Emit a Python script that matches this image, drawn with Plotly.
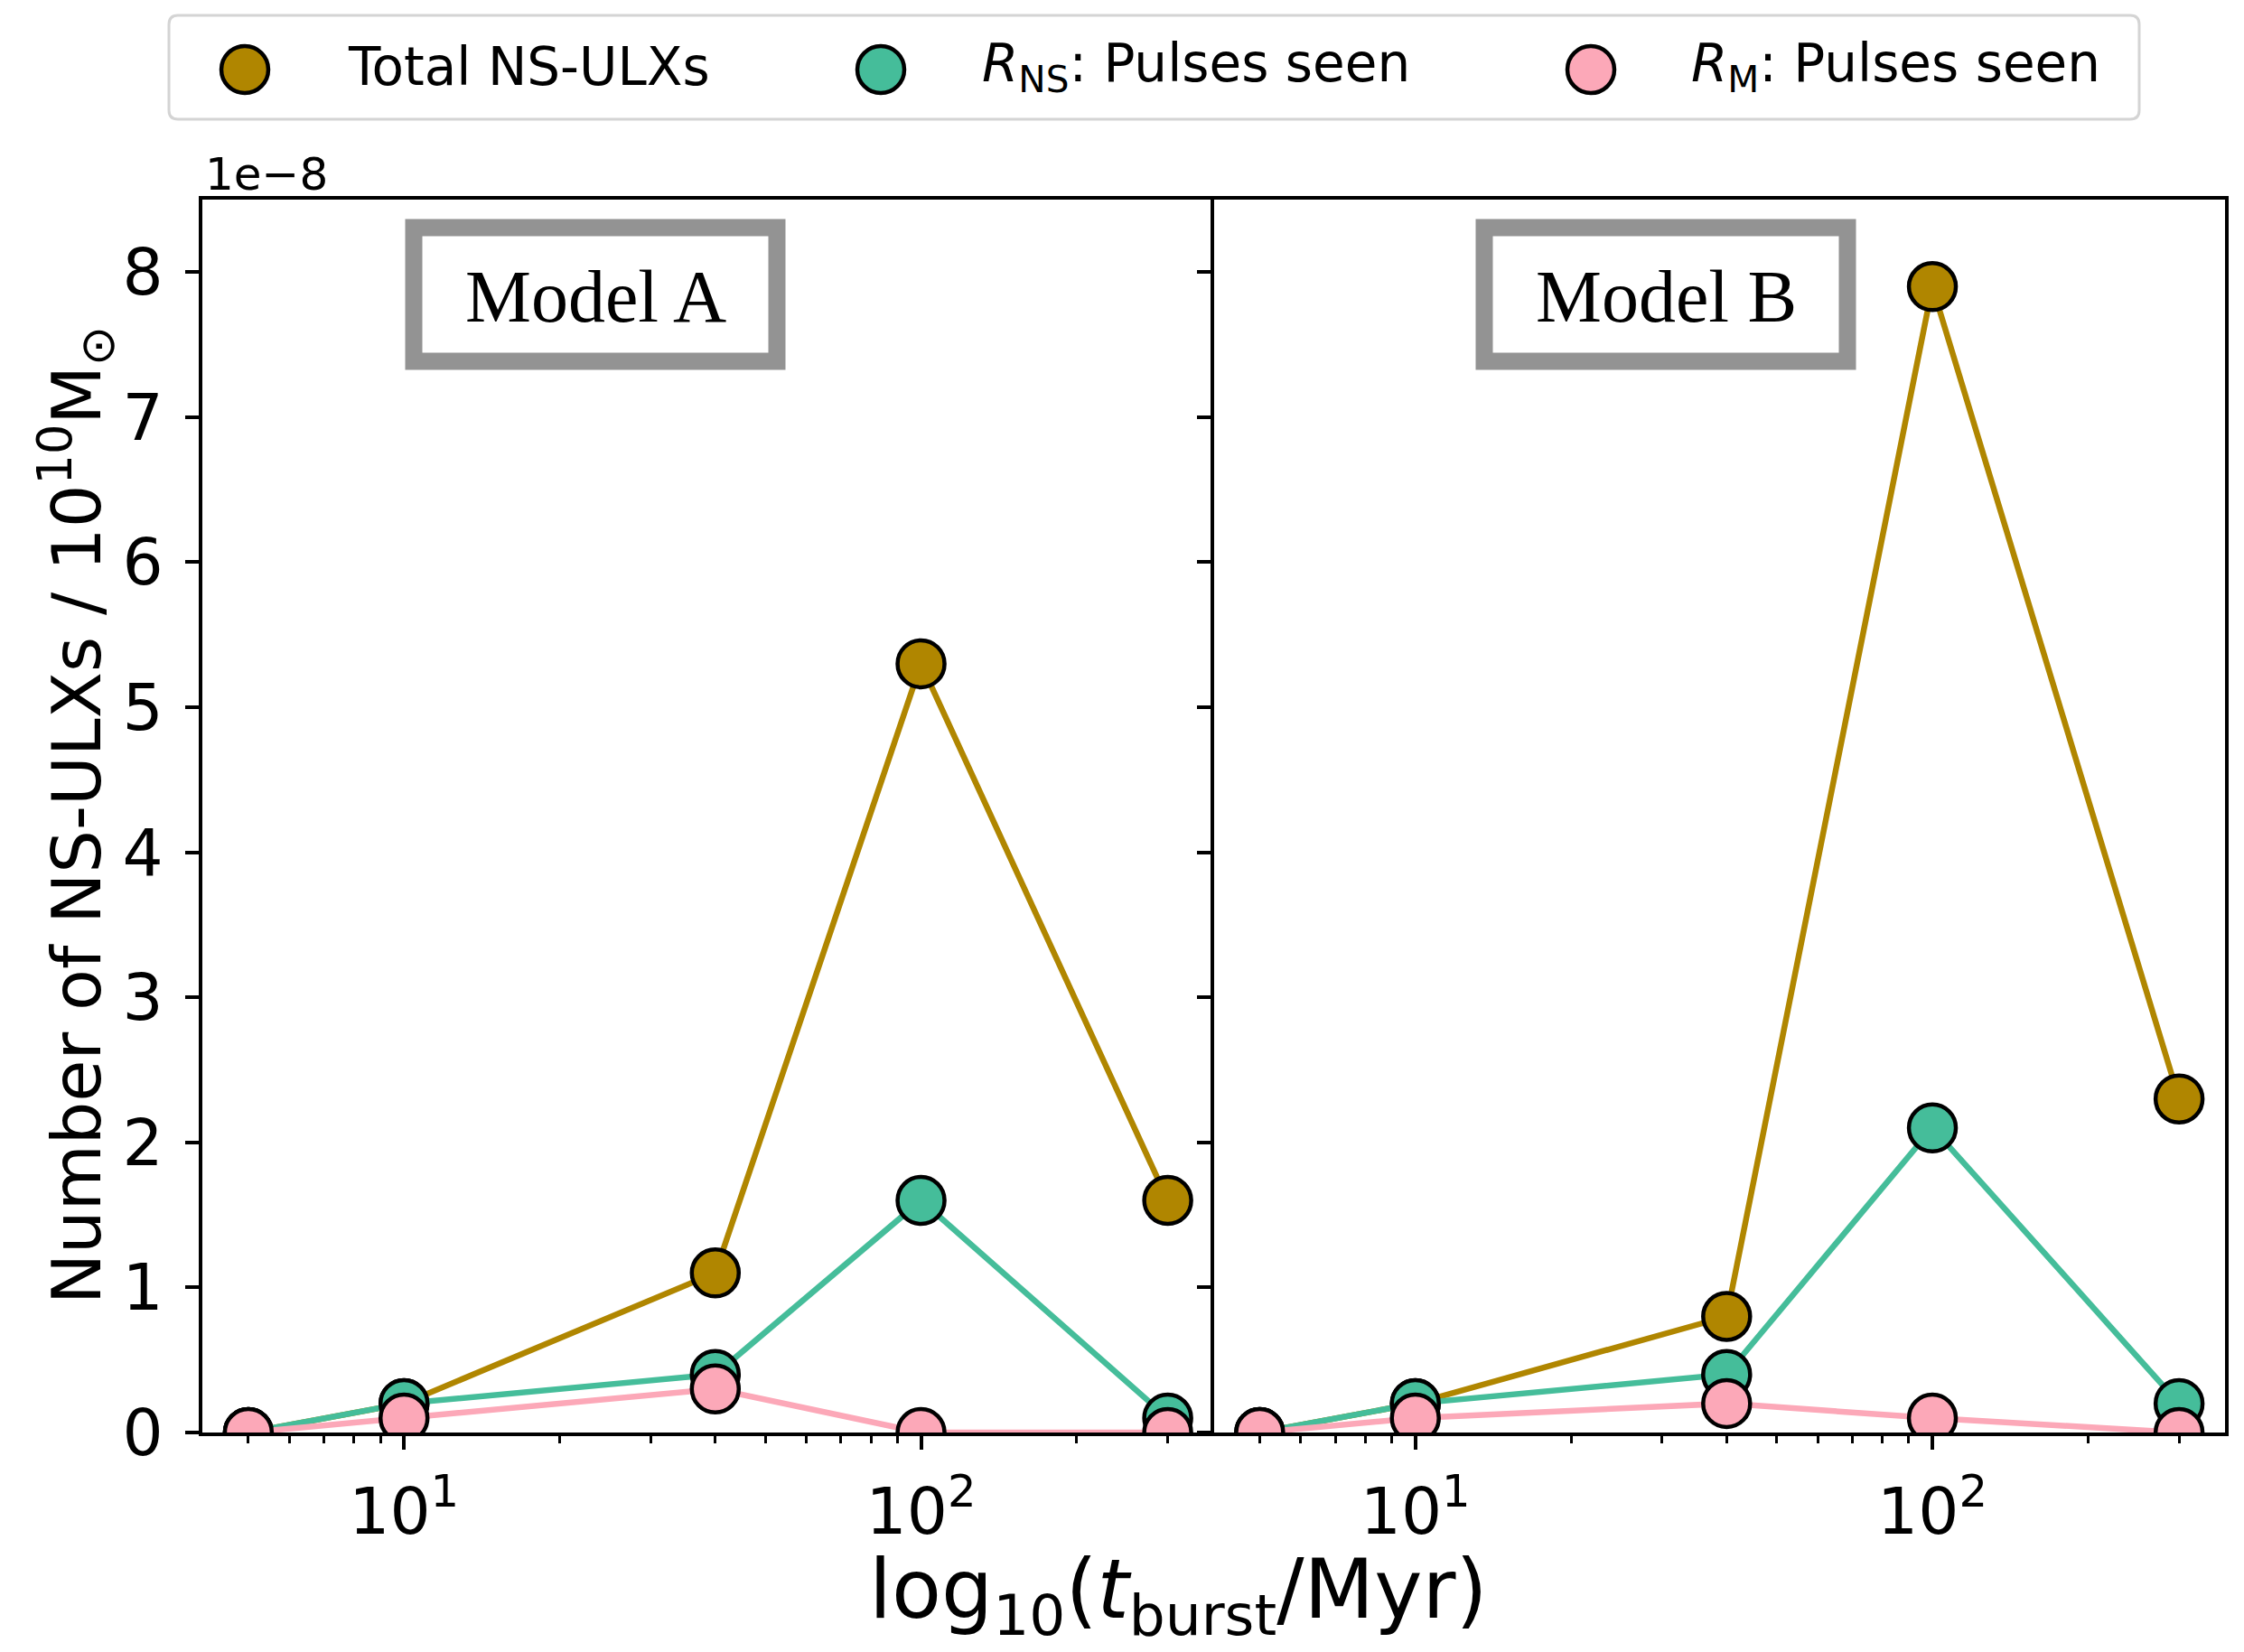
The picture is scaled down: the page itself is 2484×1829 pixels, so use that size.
import plotly.graph_objects as go

# Burst durations (Myr) and NS-ULX counts per 10^10 Msun, in units of 1e-8
t_burst = [5, 10, 40, 100, 300]

model_a_total = [0.0, 0.2, 1.1, 5.3, 1.6]
model_a_rns = [0.0, 0.2, 0.4, 1.6, 0.1]
model_a_rm = [0.0, 0.1, 0.3, 0.0, 0.0]

model_b_total = [0.0, 0.2, 0.8, 7.9, 2.3]
model_b_rns = [0.0, 0.2, 0.4, 2.1, 0.2]
model_b_rm = [0.0, 0.1, 0.2, 0.1, 0.0]

series_names = ["Total NS-ULXs", "<i>R</i><sub>NS</sub>: Pulses seen", "<i>R</i><sub>M</sub>: Pulses seen"]
series_colors = ["#b08600", "#45bd9a", "#fca8b8"]

y_ticks = [0, 1, 2, 3, 4, 5, 6, 7, 8]
x_major = [10, 100]
x_major_text = ["10<sup>1</sup>", "10<sup>2</sup>"]
x_minor = [5, 6, 7, 8, 9, 20, 30, 40, 50, 60, 70, 80, 90, 200, 300]

W, H = 2484, 1829
L, R, T, B = 224, 2463, 221, 1586


def px(x):
    return (x - L) / (R - L)


def py(y):
    return (B - y) / (B - T)


FONT = "DejaVu Sans"
fig = go.Figure()

panels = [
    ("x", "y", [model_a_total, model_a_rns, model_a_rm]),
    ("x2", "y2", [model_b_total, model_b_rns, model_b_rm]),
]
for xa, ya, series in panels:
    for vals, name, color in zip(series, series_names, series_colors):
        fig.add_trace(go.Scatter(
            x=t_burst, y=vals, name=name, xaxis=xa, yaxis=ya,
            mode="lines+markers", showlegend=False,
            line=dict(color=color, width=6.5),
            marker=dict(size=52, color=color, line=dict(color="black", width=4.5)),
            cliponaxis=True,
        ))

xcommon = dict(
    type="log", range=[0.610, 2.566],
    tickmode="array", tickvals=x_major, ticktext=x_major_text,
    ticks="outside", ticklen=15, tickwidth=4, tickcolor="black",
    showline=True, linewidth=4, linecolor="black", mirror=True,
    showgrid=False, zeroline=False,
    tickfont=dict(family=FONT, size=71, color="black"),
    ticklabelstandoff=8,
    minor=dict(tickmode="array", tickvals=x_minor, ticks="outside", ticklen=8,
               tickwidth=3, tickcolor="black", showgrid=False),
)
ycommon = dict(
    range=[0, 8.5], tickmode="array", tickvals=y_ticks,
    ticks="outside", ticklen=15, tickwidth=4, tickcolor="black",
    showline=True, linewidth=4, linecolor="black",
    showgrid=False, zeroline=False,
    tickfont=dict(family=FONT, size=71, color="black"),
    ticklabelstandoff=10,
)

fig.update_layout(
    width=W, height=H,
    margin=dict(l=L, r=W - R, t=T, b=H - B, pad=0),
    paper_bgcolor="white", plot_bgcolor="white",
    font=dict(family=FONT, color="black"),
    showlegend=False,
    xaxis=dict(domain=[0, 0.5], anchor="y", **xcommon),
    xaxis2=dict(domain=[0.5, 1], anchor="y2", **xcommon),
    # the shared middle spine is drawn once, by the right panel's y axis
    yaxis=dict(domain=[0, 1], anchor="x", mirror=False, **ycommon),
    yaxis2=dict(domain=[0, 1], anchor="x2", mirror=True, showticklabels=False, **ycommon),
)

annotations = []
shapes = []

# Axis titles and offset label
annotations.append(dict(
    text="Number of NS-ULXs / 10<sup>10</sup>M<sub>⊙</sub>",
    xref="paper", yref="paper", x=px(84), y=py(903),
    xanchor="center", yanchor="middle", textangle=-90, showarrow=False,
    font=dict(family=FONT, size=75, color="black"),
))
annotations.append(dict(
    text="log<sub>10</sub>(<i>t</i><sub>burst</sub>/Myr)",
    xref="paper", yref="paper", x=px(1304), y=py(1766),
    xanchor="center", yanchor="middle", showarrow=False,
    font=dict(family=FONT, size=90, color="black"),
))
annotations.append(dict(
    text="1e−8", xref="paper", yref="paper", x=px(225), y=py(193),
    xanchor="left", yanchor="middle", showarrow=False,
    font=dict(family=FONT, size=50, color="black"),
))

# Model label boxes
for label, x0, x1 in [("Model A", 458, 860), ("Model B", 1643, 2045)]:
    shapes.append(dict(
        type="rect", xref="paper", yref="paper",
        x0=px(x0), x1=px(x1), y0=py(400), y1=py(252),
        line=dict(color="#939393", width=19), fillcolor="white", layer="above",
    ))
    annotations.append(dict(
        text=label, xref="paper", yref="paper", x=px((x0 + x1) / 2), y=py(328),
        xanchor="center", yanchor="middle", showarrow=False,
        font=dict(family="Liberation Serif", size=82, color="black"),
    ))

# Legend frame with rounded corners
lx0, lx1, ly0, ly1, rad = 187, 2368, 17, 132, 10
rx, ry = rad / (R - L), rad / (B - T)
X0, X1, Y0, Y1 = px(lx0), px(lx1), py(ly1), py(ly0)
path = (f"M {X0 + rx},{Y0} L {X1 - rx},{Y0} Q {X1},{Y0} {X1},{Y0 + ry} "
        f"L {X1},{Y1 - ry} Q {X1},{Y1} {X1 - rx},{Y1} L {X0 + rx},{Y1} "
        f"Q {X0},{Y1} {X0},{Y1 - ry} L {X0},{Y0 + ry} Q {X0},{Y0} {X0 + rx},{Y0} Z")
shapes.append(dict(type="path", xref="paper", yref="paper", path=path,
                   line=dict(color="#d4d4d4", width=3), fillcolor="white", layer="above"))

# Legend entries
legend_marker_x = [271, 975, 1761]
legend_text_x = [383, 1085, 1870]
for name, color, mx, tx in zip(series_names, series_colors, legend_marker_x, legend_text_x):
    shapes.append(dict(
        type="circle", xref="paper", yref="paper",
        xsizemode="pixel", ysizemode="pixel",
        xanchor=px(mx), yanchor=py(77), x0=-26, x1=26, y0=-26, y1=26,
        line=dict(color="black", width=4.5), fillcolor=color, layer="above",
    ))
    annotations.append(dict(
        text=name, xref="paper", yref="paper", x=px(tx), y=py(74),
        xanchor="left", yanchor="middle", showarrow=False,
        font=dict(family=FONT, size=58, color="black"),
    ))

fig.update_layout(annotations=annotations, shapes=shapes)
fig.write_html("out.html")
